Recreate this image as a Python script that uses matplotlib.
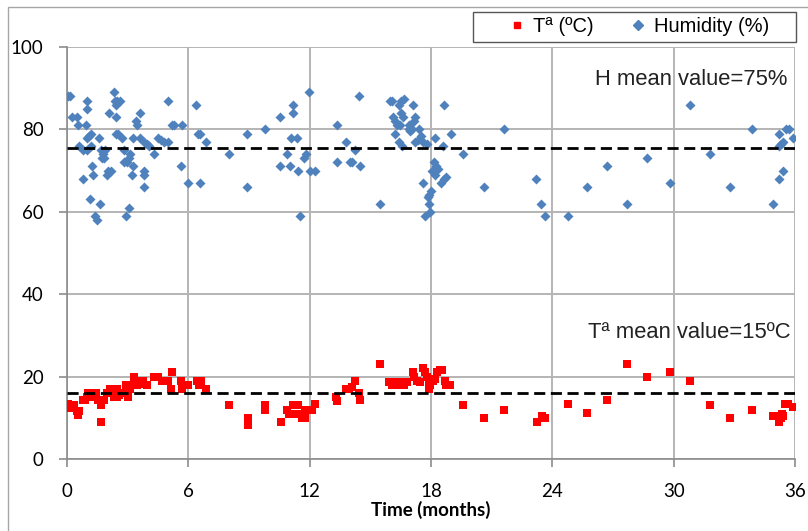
import numpy as np
import matplotlib
matplotlib.use('Agg')
import matplotlib.pyplot as plt
from matplotlib.patches import Rectangle
from matplotlib.lines import Line2D

# humidity readings (months, %)
hum_x = [0.03, 0.15, 0.27, 0.47, 0.52, 0.57, 0.77, 0.97, 0.97, 0.92, 1.0, 1.1, 1.2, 1.0, 1.2,
         0.77, 1.25, 1.3, 1.15, 1.65, 1.4, 1.5, 1.6, 1.7, 1.8, 1.85, 1.75, 1.9, 1.96, 2.05,
         2.2, 2.1, 2.3, 2.35, 2.45, 2.6, 2.4, 2.4, 2.4, 2.5, 2.7, 2.8, 2.8, 2.95, 3.05,
         3.1, 3.2, 2.9, 3.05, 3.25, 3.25, 3.4, 3.45, 3.6, 3.6, 3.8, 3.8, 3.8, 3.8, 3.95,
         4.05, 4.3, 4.5, 4.65, 4.8, 5.0, 5.0, 5.2, 5.3, 5.65, 5.7, 5.97, 6.4, 6.5, 6.6,
         6.6, 6.85,
         8.0, 8.9, 8.9, 9.8, 10.55, 10.55, 10.9, 11.05, 11.1, 11.2, 11.2, 11.35, 11.4, 11.5,
         11.7, 11.8, 11.95, 12.0, 12.25, 13.35, 13.35, 13.8, 14.0, 14.1, 14.25, 14.45, 14.5, 15.5,
         15.95, 16.05, 16.5, 16.65, 16.4, 17.1, 16.1, 16.2, 16.3, 16.5, 16.6, 16.9, 17.05, 16.95,
         17.2, 17.15, 16.45, 16.2, 16.9, 17.4, 17.5, 17.35, 17.6, 17.8, 17.2, 16.4, 16.55, 18.2,
         18.6, 19.0, 19.6, 18.15, 18.25, 18.05, 18.2, 18.35, 17.6, 18.5, 18.65, 18.75, 18.0, 17.9,
         17.85, 17.9, 17.95, 17.7, 18.66, 20.6,
         21.6, 23.2, 23.45, 23.65, 24.75, 25.7, 26.7, 27.7, 28.7, 29.8, 30.8, 31.8, 32.8, 33.85,
         34.9, 35.2, 35.4, 35.2, 35.3, 35.4, 35.2, 35.55, 35.7, 35.9]
hum_y = [88, 88, 83, 83, 81, 76, 75, 87, 85, 81, 78, 78.5, 79, 75, 76,
         68, 71, 69, 63, 62, 59, 58, 78, 75, 74, 73, 73, 75, 69, 70,
         70, 84, 89, 87, 87, 87, 86, 83, 79, 79, 78, 75, 72, 72, 73,
         74, 69, 59, 61, 71, 78, 82, 81, 84, 78, 70, 69, 66, 77, 76.5,
         76, 74, 78, 77.5, 77, 87, 77, 81, 81, 71, 81, 67, 86, 79, 79,
         67, 77,
         74, 79, 66, 80, 83, 71, 74, 71, 78, 86, 84, 78, 70, 59,
         73, 74, 89, 70, 70, 81, 72, 77, 72, 72, 75, 88, 71, 62,
         87, 87, 87, 87.5, 86, 86, 83, 82, 81, 84, 83, 81, 80, 79.5,
         83, 82, 81, 79, 80, 80, 78.5, 77.5, 77, 76.5, 77, 77, 76, 78,
         76, 79, 74, 72, 71, 70, 69, 70.5, 67, 67, 68, 68.5, 65, 64,
         63.5, 62, 60, 59, 86, 66,
         80, 68, 62, 59, 59, 66, 71, 62, 73, 67, 86, 74, 66, 80,
         62, 68, 70, 76, 76.5, 77, 79, 80, 80, 78]

# temperature readings (months, ºC)
temp_x = [0.03, 0.15, 0.25, 0.35, 0.5, 0.6, 0.55, 0.77, 0.9, 1.0, 1.05, 1.15, 1.25, 1.35, 1.45,
          1.55, 1.65, 1.85, 1.7, 1.7, 1.97, 2.15, 2.3, 2.45, 2.3, 2.45, 2.55, 2.7, 2.8, 2.9,
          3.0, 3.1, 3.15, 3.3, 3.45, 3.55, 3.65, 3.75, 3.95, 4.3, 4.4, 4.5, 4.7, 4.85, 5.0,
          5.15, 5.2, 5.65, 5.7, 5.97, 6.45, 6.65, 6.55, 6.85,
          8.0, 8.95, 8.95, 9.8, 9.8, 10.6, 10.9, 11.0, 11.2, 11.4, 11.2, 11.4, 11.6, 11.75,
          11.75, 11.95, 12.1, 12.25, 13.3, 13.35, 13.8, 13.95, 14.1, 14.25, 14.45, 14.5,
          15.5, 15.9, 16.05, 16.2, 16.35, 16.5, 16.65, 16.8, 17.1, 17.15, 17.3, 17.45, 17.6, 17.7,
          17.8, 17.9, 17.95, 17.9, 18.1, 18.2, 18.3, 18.45, 18.55, 18.7, 18.75, 18.95,
          19.6, 20.6, 21.6, 23.25, 23.5, 23.65, 24.75, 25.7, 26.7, 27.7, 28.7, 29.8, 30.8, 31.8,
          32.8, 33.85, 34.9, 35.05, 35.2, 35.3, 35.35, 35.4, 35.5, 35.65, 35.9]
temp_y = [13.3, 12.4, 13.1, 13, 11.6, 11.6, 10.7, 14.3, 14.3, 15, 16, 15.5, 16, 15, 16,
          14.3, 14.3, 14.3, 13, 9, 16, 17, 17, 17, 15, 15, 15.5, 16, 16, 18,
          15, 17, 18, 20, 18, 19, 18.3, 19, 18, 20, 20, 20, 19, 19, 19,
          17, 21, 19, 17, 18, 19, 19, 18, 17,
          13, 10, 8.3, 13, 12, 9, 12, 11, 11, 11, 13, 13, 10, 10,
          12, 12, 12, 13.3, 15, 14, 17, 17, 17.5, 19, 16, 14.3,
          23, 18.7, 18, 18.7, 18, 18.7, 18, 18.7, 21, 20, 19, 18.7, 22, 21,
          20, 19, 18, 17, 19, 19.5, 21, 21.6, 21.6, 19, 18, 18,
          13, 10, 12, 9, 10.4, 10, 13.3, 11.2, 14.3, 23, 20, 21, 19, 13,
          10, 12, 10.4, 10.4, 9, 10, 11, 10.4, 13.3, 13.3, 12.6]

h_mean = 75.5   # dashed line position
t_mean = 16.1
x_ticks = [0, 6, 12, 18, 24, 30, 36]
y_ticks = [0, 20, 40, 60, 80, 100]

fig = plt.figure(figsize=(8.08, 5.31), dpi=100)
ax = fig.add_axes([67/808, 1-459/531, (795-67)/808, (459-47)/531])

ax.scatter(temp_x, temp_y, marker='s', s=26, color='#ff0000', linewidths=0, zorder=3)
ax.scatter(hum_x, hum_y, marker='D', s=26, color='#4f81bd', linewidths=0, zorder=3)

ax.axhline(h_mean, color='black', lw=2, ls=(0, (4, 2)), zorder=4)
ax.axhline(t_mean, color='black', lw=2, ls=(0, (4, 2)), zorder=4)

ax.text(35.6, 92.2, 'H mean value=75%', ha='right', va='center',
        fontsize=15.8, family='Liberation Sans', color='#222222')
ax.text(35.8, 30.6, 'Tª mean value=15ºC', ha='right', va='center',
        fontsize=15.8, family='Liberation Sans', color='#222222')

ax.set_xlim(0, 36)
ax.set_ylim(0, 100)
ax.set_xticks(x_ticks)
ax.set_yticks(y_ticks)
ax.grid(True, color='#b4b4b4', lw=1.4)
ax.set_axisbelow(True)
for s in ['top', 'right']:
    ax.spines[s].set_visible(False)
for s in ['left', 'bottom']:
    ax.spines[s].set_color('#8c8c8c')
    ax.spines[s].set_linewidth(1.2)
ax.tick_params(length=6, width=1.2, color='#8c8c8c', labelsize=13.5, pad=11)
for lab in ax.get_xticklabels() + ax.get_yticklabels():
    lab.set_family('Lato')
ax.set_xlabel('Time (months)', fontsize=13.5, fontweight='bold', family='Lato', labelpad=1)

# legend, box drawn separately
handles = [Line2D([], [], ls='', marker='s', ms=5, color='#ff0000'),
           Line2D([], [], ls='', marker='D', ms=5, color='#4f81bd')]
leg = fig.legend(handles, ['Tª (ºC)', 'Humidity (%)'], ncol=2,
                 loc='center left', bbox_to_anchor=(509/808, 1-27/531),
                 prop={'family': 'Liberation Sans', 'size': 14.5},
                 frameon=False, borderaxespad=0, borderpad=0,
                 handletextpad=0.4, handlelength=0.8, columnspacing=1.8)
fig.add_artist(Rectangle((473/808, 1-42/531), (796-473)/808, 30/531,
                         transform=fig.transFigure, fill=False,
                         edgecolor='#555555', lw=1))

# outer chart border
fig.add_artist(Rectangle((8/808, -0.1), 1.2, 1.1 - 7/531, transform=fig.transFigure,
                         fill=False, edgecolor='#a6a6a6', lw=1))

fig.savefig('out.png', dpi=100)
